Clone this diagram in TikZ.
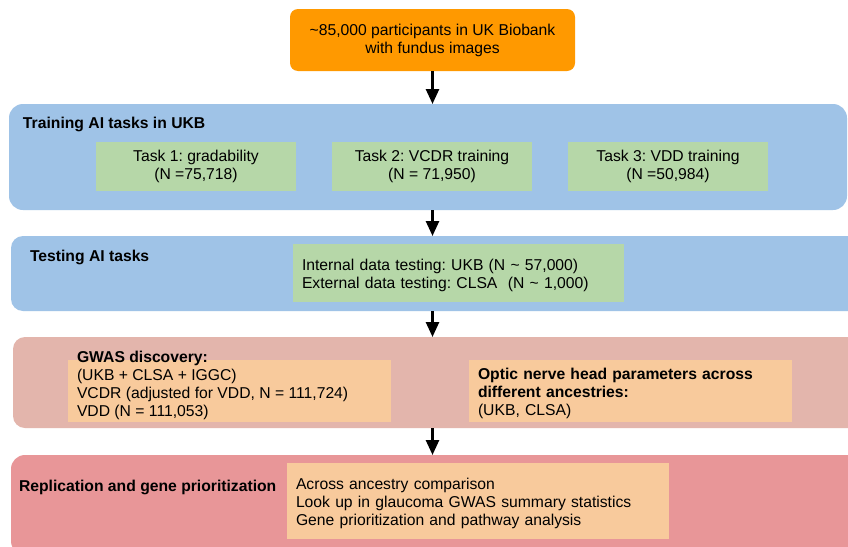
\documentclass[tikz,border=0pt]{standalone}
\usepackage{fontspec}
\setmainfont{Liberation Sans}
\usetikzlibrary{arrows.meta}
\definecolor{cTop}{HTML}{FF9900}
\definecolor{cBlue}{HTML}{9FC3E7}
\definecolor{cGreen}{HTML}{B6D7A8}
\definecolor{cPeach}{HTML}{F8CA9C}
\definecolor{cRose}{HTML}{E3B5AC}
\definecolor{cRed}{HTML}{E89698}
\frenchspacing
\begin{document}
\begin{tikzpicture}[x=1pt,y=-1pt,
  every node/.style={font=\fontsize{15.7}{18}\selectfont, inner sep=0pt, outer sep=0pt},
  band/.style={draw=none, rounded corners=14pt, anchor=north west, minimum width=#1},
  band/.default=860pt,
  lower/.style={execute at begin node={\rule{0pt}{16.5pt}}},
  greenbox/.style={fill=cGreen, anchor=north west, lower},
  peachbox/.style={fill=cPeach, anchor=north west},
  title/.style={anchor=west, font=\fontsize{15.7}{18}\selectfont\bfseries},
  arr/.style={line width=2.6pt, -{Triangle[width=13pt,length=15pt]}}
]
\useasboundingbox (0,0) rectangle (848,546);
\clip (0,0) rectangle (848,546);
\fill[white] (0,0) rectangle (848,546);

% top box
\node[fill=cTop, rounded corners=8pt, anchor=north west, minimum width=285pt, minimum height=62pt, align=center, lower] (top) at (290,9)
  {\textasciitilde85,000 participants in UK Biobank\\with fundus images};

% band 1
\node[band=838pt, fill=cBlue, minimum height=106pt] (b1) at (9,104) {};
\node[title] (b1t) at (23,124.5) {Training AI tasks in UKB};
\node[greenbox, minimum width=200pt, minimum height=49pt, align=center] (t1) at (96,142) {Task 1: gradability\\(N =75,718)};
\node[greenbox, minimum width=200pt, minimum height=49pt, align=center] (t2) at (332,142) {Task 2: VCDR training\\(N = 71,950)};
\node[greenbox, minimum width=200pt, minimum height=49pt, align=center] (t3) at (568,142) {Task 3: VDD training\\(N =50,984)};

% band 2
\node[band, fill=cBlue, rounded corners=12pt, minimum height=75pt] (b2) at (11,236) {};
\node[title] (b2t) at (30,257) {Testing AI tasks};
\node[greenbox, minimum width=331pt, minimum height=58pt, text width=313pt, align=left] (test) at (293,244)
  {Internal data testing: UKB (N \textasciitilde{} 57,000)\\External data testing: CLSA\ \ (N \textasciitilde{} 1,000)};

% band 3
\node[band, fill=cRose, rounded corners=12pt, minimum height=91pt] (b3) at (13,337) {};
\node[peachbox, minimum width=323pt, minimum height=62pt] (gwas) at (68,360) {};
\node[anchor=west, align=left] (gwast) at (77,385)
  {\textbf{GWAS discovery:}\\(UKB + CLSA + IGGC)\\VCDR (adjusted for VDD, N = 111,724)\\VDD (N = 111,053)};
\node[peachbox, lower, minimum width=323pt, minimum height=62pt, text width=305pt, align=left] (onh) at (469,360)
  {\textbf{Optic nerve head parameters across}\\\textbf{different ancestries:}\\(UKB, CLSA)};

% band 4
\node[band, fill=cRed, rounded corners=14pt, minimum height=100pt] (b4) at (11,455) {};
\node[title] (b4t) at (19,487.5) {Replication and gene prioritization};
\node[peachbox, lower, minimum width=382pt, minimum height=76pt, text width=364pt, align=left] (rep) at (287,463)
  {Across ancestry comparison\\Look up in glaucoma GWAS summary statistics\\Gene prioritization and pathway analysis};

% arrows
\draw[arr] (top.south) -- (top.south |- b1.north);
\draw[arr] (b1.south -| top.south) -- (b2.north -| top.south);
\draw[arr] (b2.south -| top.south) -- (b3.north -| top.south);
\draw[arr] (b3.south -| top.south) -- (b4.north -| top.south);
\end{tikzpicture}
\end{document}
